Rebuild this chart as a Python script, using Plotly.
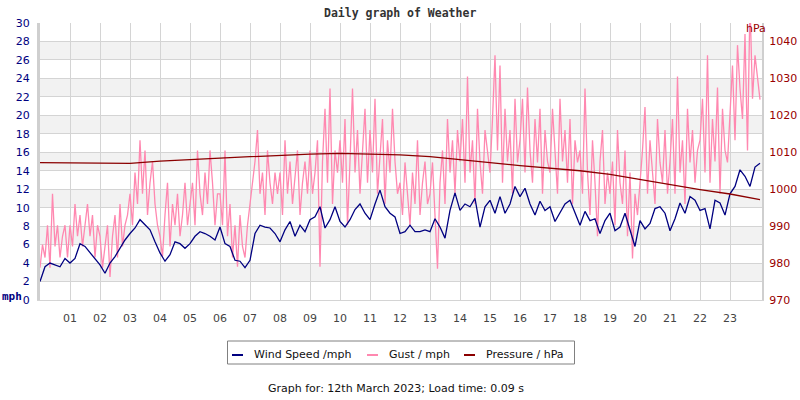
import pandas as pd
import plotly.graph_objects as go

# ---------------- data ----------------
wind_mph = [2.0, 3.6, 4.0, 3.8, 3.6, 4.5,
            4.0, 4.5, 6.1, 5.8, 5.1, 4.5,
            3.8, 2.9, 4.0, 4.7, 5.6, 6.5,
            7.2, 7.8, 8.7, 8.1, 7.6, 6.3,
            5.1, 4.2, 4.9, 6.3, 6.1, 5.6,
            6.1, 6.9, 7.4, 7.2, 6.9, 6.5,
            7.9, 6.1, 5.8, 4.3, 4.2, 3.5,
            4.3, 7.2, 8.1, 7.9, 7.8, 7.2,
            6.3, 7.6, 8.5, 6.9, 8.1, 7.4,
            8.7, 9.0, 10.1, 7.8, 8.7, 10.1,
            8.5, 7.9, 8.7, 9.8, 10.4, 9.4,
            8.7, 10.4, 11.9, 10.1, 9.4, 9.0,
            7.2, 7.4, 8.1, 7.4, 7.4, 7.6,
            7.4, 8.8, 7.9, 6.7, 9.7, 11.6,
            9.7, 10.4, 10.1, 11.0, 7.9, 10.1,
            10.8, 9.4, 11.2, 9.4, 10.4, 12.3,
            11.2, 12.1, 10.4, 9.2, 10.7, 9.7,
            10.1, 8.5, 9.4, 10.4, 10.8, 9.4,
            8.1, 9.6, 8.6, 8.8, 7.2, 8.6,
            9.4, 7.5, 7.9, 9.4, 7.5, 5.8,
            8.6, 7.7, 8.3, 9.9, 10.1, 9.4,
            7.5, 8.8, 10.5, 9.4, 11.2, 10.8,
            9.7, 9.9, 7.7, 10.8, 10.5, 9.2,
            11.5, 12.3, 14.1, 13.4, 12.3, 14.4,
            14.8]

gust_mph = [3.5, 6.0, 4.6, 8.1, 3.5, 11.5, 5.8, 8.1, 4.6, 6.9, 8.1, 4.6,
            8.1, 5.8, 10.4, 6.9, 9.2, 5.8, 8.1, 10.4, 6.9, 9.2, 4.6, 8.1,
            6.9, 3.5, 5.8, 8.1, 2.5, 6.9, 9.2, 4.6, 10.4, 5.8, 8.1, 9.2,
            11.5, 8.1, 13.8, 10.4, 17.3, 11.5, 16.2, 9.2, 12.7, 15.0, 10.4, 8.1,
            6.9, 4.7, 9.2, 12.7, 5.8, 10.4, 8.1, 11.5, 6.9, 9.2, 12.7, 8.1,
            10.4, 12.7, 8.1, 16.2, 11.5, 9.2, 13.8, 10.4, 16.2, 12.7, 8.1, 11.5,
            11.5, 8.1, 16.2, 6.9, 10.4, 4.6, 8.1, 3.6, 9.2, 5.8, 4.6, 8.1,
            10.4, 12.7, 15.0, 18.4, 11.5, 13.8, 9.2, 16.2, 12.7, 10.4, 13.8, 11.5,
            13.8, 9.2, 17.3, 11.5, 15.0, 10.4, 13.8, 16.2, 9.2, 12.7, 15.0, 11.5,
            16.2, 11.5, 13.8, 17.3, 3.6, 15.0, 20.7, 12.7, 22.9, 10.4, 16.2, 13.8,
            17.3, 12.7, 19.6, 8.1, 15.0, 22.9, 13.8, 18.4, 11.5, 16.2, 20.7, 12.7,
            18.4, 13.8, 21.8, 11.5, 16.2, 19.6, 10.4, 17.3, 13.8, 20.7, 15.0, 11.5,
            12.7, 9.2, 14.9, 11.5, 8.1, 13.8, 10.4, 17.3, 9.2, 12.7, 15.0, 10.4,
            11.5, 14.9, 9.2, 3.4, 12.7, 16.2, 10.4, 19.6, 13.8, 17.3, 11.5, 18.4,
            15.0, 19.6, 12.7, 24.2, 13.8, 17.3, 10.4, 20.7, 14.9, 11.5, 18.4, 16.2,
            13.8, 19.6, 26.5, 16.2, 25.4, 12.7, 20.7, 15.0, 18.4, 11.5, 21.8, 14.9,
            17.3, 21.8, 13.8, 23.0, 16.2, 12.7, 19.6, 14.9, 20.7, 11.5, 18.4, 15.0,
            13.8, 20.7, 16.2, 11.5, 21.8, 15.0, 18.4, 12.7, 19.6, 10.4, 17.3, 14.9,
            16.2, 11.5, 22.9, 13.8, 9.2, 17.3, 12.7, 6.9, 15.0, 18.4, 10.4, 13.8,
            11.5, 15.0, 8.1, 18.4, 12.7, 10.4, 16.2, 6.9, 13.8, 4.5, 11.5, 9.2,
            12.7, 16.2, 20.9, 11.5, 17.3, 13.8, 10.4, 19.6, 14.9, 12.7, 18.4, 11.5,
            15.0, 19.6, 11.5, 24.2, 13.8, 17.3, 10.4, 20.7, 14.9, 18.4, 12.7, 16.2,
            17.3, 21.8, 13.8, 26.5, 12.7, 19.6, 15.0, 23.0, 11.5, 20.7, 16.2, 14.9,
            20.7, 25.4, 17.3, 27.6, 22.9, 19.6, 28.8, 16.2, 32.3, 21.8, 26.5, 24.2,
            21.7]

pressure_hpa = [1007.2, 1007.1, 1007.0, 1007.0, 1007.6, 1008.1, 1008.4, 1008.8,
                1009.2, 1009.5, 1009.7, 1009.6, 1009.3, 1008.8, 1007.9, 1007.2,
                1006.4, 1005.7, 1005.0, 1004.0, 1002.6, 1001.2, 999.9, 998.7,
                997.2]

hour_labels = ["01", "02", "03", "04", "05", "06", "07", "08", "09", "10", "11", "12",
               "13", "14", "15", "16", "17", "18", "19", "20", "21", "22", "23"]
left_ticks = [0, 2, 4, 6, 8, 10, 12, 14, 16, 18, 20, 22, 24, 26, 28, 30]
right_ticks = [970, 980, 990, 1000, 1010, 1020, 1030, 1040]
band_starts = [2, 6, 10, 14, 18, 22, 26]

day = pd.Timestamp("2023-03-12 00:00")
t_wind = pd.date_range(day, periods=len(wind_mph), freq="10min")
t_gust = pd.date_range(day, periods=len(gust_mph), freq="5min")
t_pres = pd.date_range(day, periods=len(pressure_hpa), freq="60min")
hour_vals = [day + pd.Timedelta(hours=int(h)) for h in hour_labels]

# ---------------- layout geometry ----------------
W, H = 800, 400
L, R, T, B = 40, 38, 23, 100
PW, PH = W - L - R, H - T - B


def px(x):
    return (x - L) / PW


def py(y):
    return (H - B - y) / PH


NAVY = "#000080"
PINK = "#ff88b0"
DRED = "#8b0000"
RTICK = "#990000"
GRID = "#d4d4d4"
FONT = "DejaVu Sans"
MONO = "DejaVu Sans Mono"
TXT = 11

fig = go.Figure()
fig.add_trace(go.Scatter(x=t_gust, y=gust_mph, mode="lines", name="Gust / mph",
                         line=dict(color=PINK, width=1.3), yaxis="y"))
fig.add_trace(go.Scatter(x=t_wind, y=wind_mph, mode="lines", name="Wind Speed /mph",
                         line=dict(color=NAVY, width=1.3), yaxis="y"))
fig.add_trace(go.Scatter(x=t_pres, y=pressure_hpa, mode="lines", name="Pressure / hPa",
                         line=dict(color=DRED, width=1.3), yaxis="y2"))

shapes = []
for b in band_starts:
    shapes.append(dict(type="rect", xref="paper", yref="y", x0=0, x1=1, y0=b, y1=b + 2,
                       fillcolor="#f2f2f2", line=dict(width=0), layer="below"))
# legend box and symbols
shapes.append(dict(type="rect", xref="paper", yref="paper", x0=px(227.5), x1=px(574.5),
                   y0=py(341), y1=py(364), line=dict(color="#808080", width=1),
                   fillcolor="white"))
legend_items = [("Wind Speed /mph", NAVY, 232, 252),
                ("Gust / mph", PINK, 367, 387),
                ("Pressure / hPa", DRED, 464, 484)]
annotations = []
for name, col, sx, tx in legend_items:
    shapes.append(dict(type="line", xref="paper", yref="paper", x0=px(sx), x1=px(sx + 11),
                       y0=py(355), y1=py(355), line=dict(color=col, width=2)))
    annotations.append(dict(text=name, xref="paper", yref="paper", x=px(tx), y=py(354),
                            xanchor="left", yanchor="middle", showarrow=False,
                            font=dict(family=FONT, size=TXT, color="#111111")))

annotations += [
    dict(text="<b>Daily graph of Weather</b>", xref="paper", yref="paper", x=px(400), y=py(13),
         xanchor="center", yanchor="middle", showarrow=False,
         font=dict(family=MONO, size=11.5, color="#333333")),
    dict(text="<b>mph</b>", xref="paper", yref="paper", x=px(12), y=py(296),
         xanchor="center", yanchor="middle", showarrow=False,
         font=dict(family=MONO, size=11, color=NAVY)),
    dict(text="hPa", xref="paper", yref="paper", x=px(756), y=py(29),
         xanchor="center", yanchor="middle", showarrow=False,
         font=dict(family=FONT, size=TXT, color=RTICK)),
    dict(text="Graph for: 12th March 2023; Load time: 0.09 s", xref="paper", yref="paper",
         x=px(396), y=py(388), xanchor="center", yanchor="middle", showarrow=False,
         font=dict(family=FONT, size=TXT, color="#111111")),
]

fig.update_layout(
    width=W, height=H, margin=dict(l=L, r=R, t=T, b=B, autoexpand=False),
    paper_bgcolor="white", plot_bgcolor="white", showlegend=False,
    shapes=shapes, annotations=annotations,
    xaxis=dict(type="date", range=[day, day + pd.Timedelta(minutes=24 * 60 + 4)],
               tickvals=hour_vals, ticktext=hour_labels, showgrid=True, gridcolor=GRID,
               gridwidth=1, zeroline=False, showline=True, linecolor=GRID, linewidth=1,
               ticks="", ticklabelstandoff=8, automargin=False,
               tickfont=dict(family=FONT, size=TXT, color="#444444")),
    yaxis=dict(range=[0, 30], tickvals=left_ticks, showgrid=True, gridcolor=GRID,
               zeroline=False, showline=True, linecolor="#cfcfcf", linewidth=3,
               ticks="", ticklabelstandoff=5, automargin=False,
               tickfont=dict(family=FONT, size=TXT, color=NAVY)),
    yaxis2=dict(range=[970, 1045], tickvals=right_ticks, overlaying="y", side="right",
                showgrid=False, zeroline=False, showline=True, linecolor="#cfcfcf",
                linewidth=2, ticks="", ticklabelstandoff=3, automargin=False,
                tickfont=dict(family=FONT, size=TXT, color=RTICK)),
)

fig.write_html("out.html")
